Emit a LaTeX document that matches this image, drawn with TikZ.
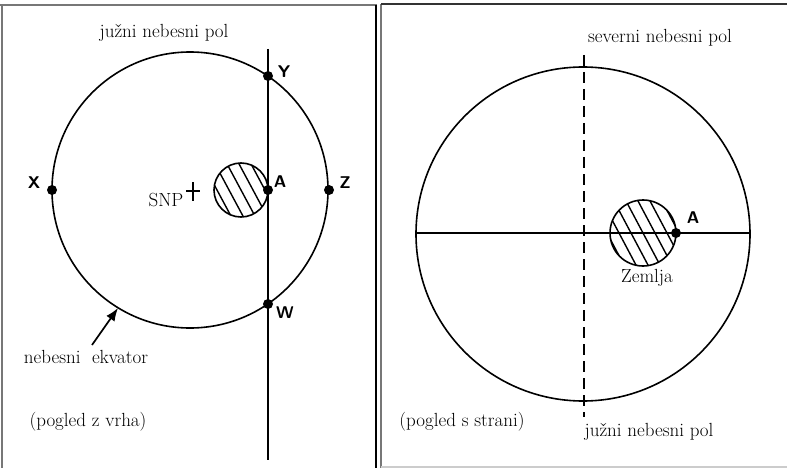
\documentclass[tikz,border=0pt]{standalone}
\usepackage{tikz}
\usetikzlibrary{arrows.meta, positioning, calc}
\definecolor{framegray}{HTML}{777777}
\definecolor{framelight}{HTML}{cccccc}

\tikzset{
  lbl/.style={font=\fontsize{19}{22}\selectfont, inner sep=0pt},
  ptlbl/.style={font=\sffamily\bfseries\fontsize{17}{19}\selectfont, inner sep=0pt},
  dot/.style={circle, fill=black, inner sep=0pt, minimum size=10pt},
  rim/.style={line width=1.6pt},
  hatch/.style={line width=1.4pt}
}

\begin{document}
\begin{tikzpicture}[x=1pt, y=-1pt]
  \useasboundingbox (0,0) rectangle (787,468);
  % frames
  \draw[framegray, line width=1.2pt] (0,5) -- (377,5);
  \draw[framegray, line width=1.5pt] (2,5) -- (2,468);
  \draw[black, line width=1.2pt] (376,5) -- (376,468);
  \draw[framegray, line width=2pt] (381,4) -- (381,468);
  \draw[black!80, line width=1.2pt] (381,4) -- (787,4);
  \draw[framelight, line width=1.2pt] (381,467) -- (787,467);

  % left: view from the top
  \coordinate (cL) at (190,190);
  \draw[rim] (cL) circle (138);
  \coordinate (eL) at (241,190);
  \begin{scope}
    \clip (eL) circle (27);
    \foreach \d in {-48,-36,...,48}
      \draw[hatch] ($(eL)+(\d,0)+(-30,-56)$) -- ($(eL)+(\d,0)+(30,56)$);
  \end{scope}
  \draw[rim] (eL) circle (27);
  \coordinate (mTop) at (268,49);
  \coordinate (mBot) at (268,460);
  \draw[line width=1.9pt] (mTop) -- (mBot);
  \node[dot] (Y) at (268,76) {};
  \node[dot] (A) at (268,190) {};
  \node[dot] (W) at (268,304) {};
  \node[dot] (X) at (52,190) {};
  \node[dot] (Z) at (329,190) {};
  \node[ptlbl] at (284,72) {Y};
  \node[ptlbl] at (280,182) {A};
  \node[ptlbl] at (285,313) {W};
  \node[ptlbl] at (34,183) {X};
  \node[ptlbl] at (345,183) {Z};
  \coordinate (snp) at (193,191);
  \draw[line width=1.1pt] ($(snp)+(-7,0)$) -- ($(snp)+(7,0)$);
  \draw[line width=1.1pt] ($(snp)+(0,-9)$) -- ($(snp)+(0,10)$);
  \node[lbl] (snpLbl) at (166,200) {SNP};
  \node[lbl] (jnpL) at (164,33) {južni nebesni pol};
  \node[lbl] (ekvLbl) at (86,357) {nebesni\ \ ekvator};
  \coordinate (ekv) at (118,308);
  \draw[-{Latex[length=13pt, width=10pt]}, line width=1.7pt] (92,345) -- (ekv);
  \node[lbl] (topView) at (88,422) {(pogled z vrha)};

  % right: view from the side
  \coordinate (cR) at (583,234);
  \draw[rim] (cR) circle (167);
  \coordinate (eqW) at (416,233);
  \coordinate (eqE) at (750,233);
  \draw[rim] (eqW) -- (eqE);
  \coordinate (axN) at (584,55);
  \coordinate (axS) at (584,417);
  \draw[line width=1.5pt, dash pattern=on 11pt off 6pt] (axN) -- (axS);
  \coordinate (eR) at (643,233);
  \begin{scope}
    \clip (eR) circle (33);
    \foreach \d in {-60,-48,...,60}
      \draw[hatch] ($(eR)+(\d,0)+(-35,-66)$) -- ($(eR)+(\d,0)+(35,66)$);
  \end{scope}
  \draw[rim] (eR) circle (33);
  \node[dot] (AR) at (676,233) {};
  \node[ptlbl] at (693,218) {A};
  \node[lbl] (snpR) at (660,38) {severni nebesni pol};
  \node[lbl] (zemlja) at (647,278) {Zemlja};
  \node[lbl] (jnpR) at (649,432) {južni nebesni pol};
  \node[lbl] (sideView) at (462,422) {(pogled s strani)};
\end{tikzpicture}
\end{document}
